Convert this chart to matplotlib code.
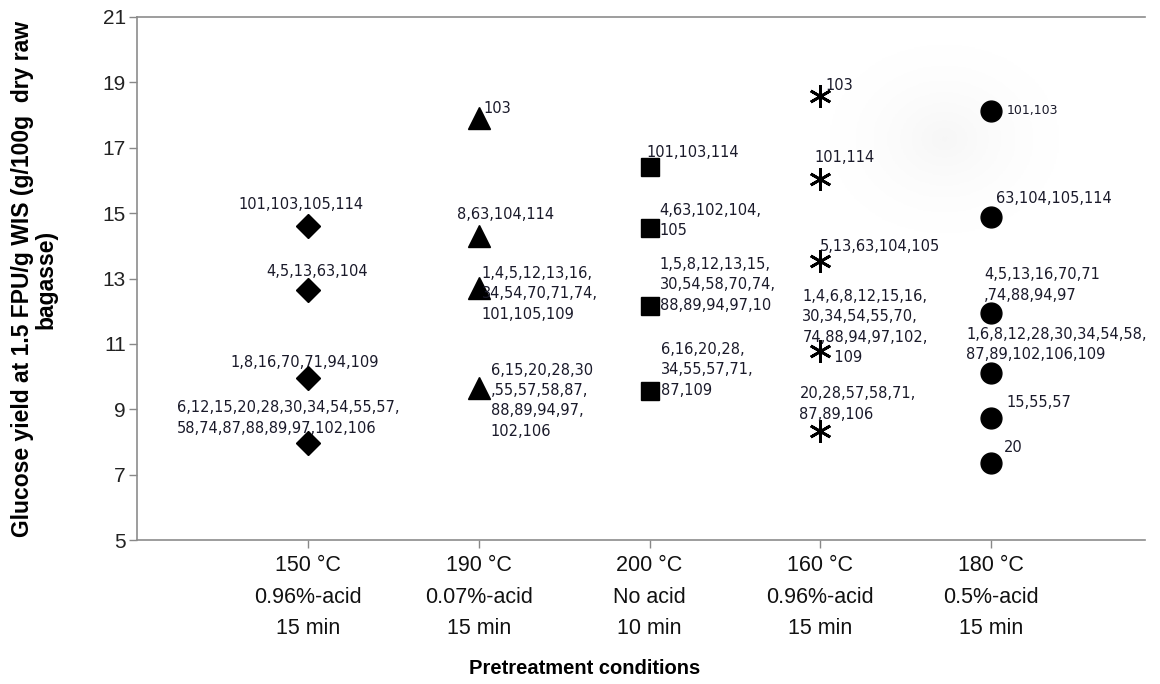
import numpy as np
import matplotlib
matplotlib.use('Agg')
import matplotlib.pyplot as plt

#################################################################
### DATA
conditions = ['150 °C\n0.96%-acid\n15 min',
              '190 °C\n0.07%-acid\n15 min',
              '200 °C\nNo acid\n10 min',
              '160 °C\n0.96%-acid\n15 min',
              '180 °C\n0.5%-acid\n15 min']

yield_150 = [14.60, 12.65, 9.95, 7.97]
yield_190 = [17.90, 14.30, 12.72, 9.66]
yield_200 = [16.40, 14.53, 12.16, 9.56]
yield_160 = [18.58, 16.04, 13.53, 10.78, 8.33]
yield_180 = [18.13, 14.89, 11.94, 10.10, 8.73, 7.35]

labels_150 = ['101,103,105,114', '4,5,13,63,104', '1,8,16,70,71,94,109',
              '6,12,15,20,28,30,34,54,55,57,\n58,74,87,88,89,97,102,106']
labels_190 = ['103', '8,63,104,114',
              '1,4,5,12,13,16,\n34,54,70,71,74,\n101,105,109',
              '6,15,20,28,30\n,55,57,58,87,\n88,89,94,97,\n102,106']
labels_200 = ['101,103,114', '4,63,102,104,\n105',
              '1,5,8,12,13,15,\n30,54,58,70,74,\n88,89,94,97,10',
              '6,16,20,28,\n34,55,57,71,\n87,109']
labels_160 = ['103', '101,114', '5,13,63,104,105',
              '1,4,6,8,12,15,16,\n30,34,54,55,70,\n74,88,94,97,102,\n       109',
              '20,28,57,58,71,\n87,89,106']
labels_180 = ['101,103', '63,104,105,114', '4,5,13,16,70,71\n,74,88,94,97',
              '1,6,8,12,28,30,34,54,58,\n87,89,102,106,109', '15,55,57', '20']

#################################################################
### STYLE
# marker style for each condition
styles = [dict(marker='D', ms=12.5),
          dict(marker='^', ms=16.5),
          dict(marker='s', ms=12.5),
          dict(marker=(6, 2, 0), ms=16, mew=2.0),
          dict(marker='o', ms=15)]

# label offsets in pixels (dx, dy) from the marker, and alignment
offs_150 = [(-7, 22, 'center'), (9, 18, 'center'), (-3, 16, 'center'), (-131, 25, 'left')]
offs_190 = [(5, 10, 'left'), (-22, 22, 'left'), (3, -6, 'left'), (12, -13, 'left')]
offs_200 = [(-3, 15, 'left'), (10, 8, 'left'), (10, 21, 'left'), (11, 21, 'left')]
offs_160 = [(5, 11, 'left'), (-6, 22, 'left'), (-1, 15, 'left'), (-18, 24, 'left'), (-21, 27, 'left')]
offs_180 = [(15, 0, 'left'), (5, 18, 'left'), (-7, 28, 'left'), (-25, 29, 'left'), (15, 16, 'left'), (13, 16, 'left')]

groups = [(yield_150, labels_150, offs_150),
          (yield_190, labels_190, offs_190),
          (yield_200, labels_200, offs_200),
          (yield_160, labels_160, offs_160),
          (yield_180, labels_180, offs_180)]

W, H = 1160, 684
fig = plt.figure(figsize=(W / 100, H / 100), dpi=100)
ax = fig.add_axes([137 / W, 1 - 540 / H, 1008 / W, 523 / H])
ax.set_xlim(0, 5.9)
ax.set_ylim(5, 21)

# faint grey shading in the upper right of the plot area
gx, gy = np.meshgrid(np.linspace(-1, 1, 200), np.linspace(-1, 1, 200))
shade = np.clip(1 - np.hypot(gx, gy), 0, 1) ** 2
ax.imshow(shade, extent=(3.85, 5.6, 13.5, 21.0), cmap='Greys', vmin=0, vmax=14,
          aspect='auto', zorder=0, interpolation='bilinear')

for i, (ys, labs, offs) in enumerate(groups):
    xs = [i + 1] * len(ys)
    st = dict(styles[i])
    ax.plot(xs, ys, ls='none', color='black', mec='black', **st, zorder=3)
    for y, lab, (dx, dy, ha) in zip(ys, labs, offs):
        ax.annotate(lab, (i + 1, y), xytext=(dx, dy), textcoords='offset pixels',
                    ha=ha, va='center', fontsize=10.5 if lab != '101,103' else 9,
                    family='DejaVu Sans', color='#1a1a2a', linespacing=1.45,
                    zorder=4)

ax.set_yticks(np.arange(5, 22, 2))
ax.set_xticks(range(1, 6))
ax.set_xticklabels(conditions, family='Liberation Sans',
                   fontsize=15.5, linespacing=1.65, color='#111111')
for t in ax.get_yticklabels():
    t.set_family('Liberation Sans')
    t.set_fontsize(15)
    t.set_color('#222222')

ax.tick_params(axis='y', direction='out', length=6, width=1, color='#888888', pad=2)
ax.tick_params(axis='x', direction='out', length=6, width=1, color='#888888', pad=5)
for s in ['left', 'top', 'bottom']:
    ax.spines[s].set_color('#8c8c8c')
    ax.spines[s].set_linewidth(1.2)
ax.spines['right'].set_visible(False)

fig.text(34 / W, 1 - 279 / H,
         'Glucose yield at 1.5 FPU/g WIS (g/100g  dry raw\nbagasse)',
         rotation=90, ha='center', va='center', multialignment='center',
         family='Liberation Sans', fontweight='bold', fontsize=16.5,
         linespacing=1.0)
fig.text(585 / W, 1 - 668 / H, 'Pretreatment conditions',
         ha='center', va='center', fontweight='bold', fontsize=14.5,
         family='Liberation Sans')

fig.savefig('out.png', dpi=100)
